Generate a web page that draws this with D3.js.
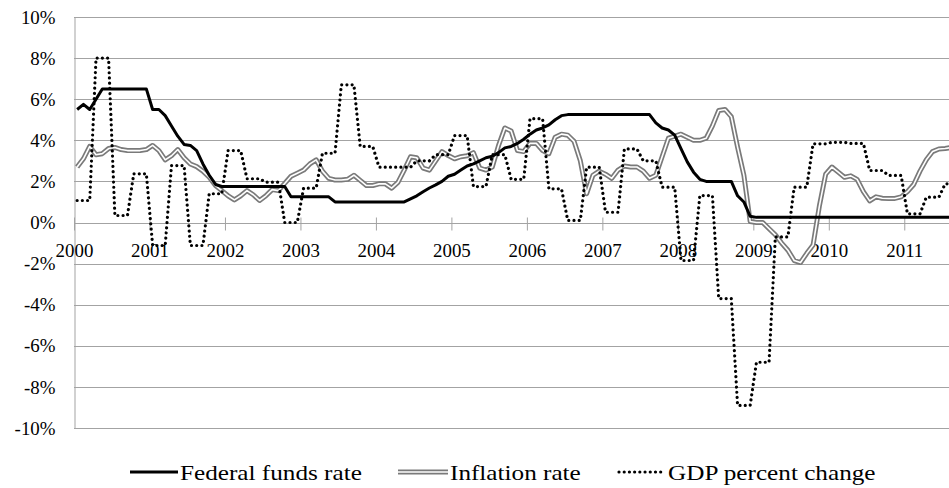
<!DOCTYPE html>
<html>
<head>
<meta charset="utf-8">
<script src="https://cdn.jsdelivr.net/npm/d3@7/dist/d3.min.js"></script>
<style>
  html, body { margin: 0; padding: 0; background: #ffffff; }
  svg { display: block; }
  svg text { font-family: "Liberation Serif", "DejaVu Serif", "Times New Roman", Times, serif !important; fill: #000; }
</style>
</head>
<body>
<svg id="chart" width="949" height="488"></svg>
<script>
// ---------------- DATA (monthly, Jan 2000 - Aug 2011) ----------------
const years = [2000, 2001, 2002, 2003, 2004, 2005, 2006, 2007, 2008, 2009, 2010, 2011];
const yTicks = [-10, -8, -6, -4, -2, 0, 2, 4, 6, 8, 10];
const seriesNames = ["Federal funds rate", "Inflation rate", "GDP percent change"];

const fedFunds = [
  5.5, 5.75, 5.5, 6.0, 6.5, 6.5, 6.5, 6.5, 6.5, 6.5, 6.5, 6.5,            // 2000
  5.5, 5.5, 5.2, 4.7, 4.2, 3.8, 3.75, 3.5, 2.85, 2.3, 1.85, 1.75,         // 2001
  1.75, 1.75, 1.75, 1.75, 1.75, 1.75, 1.75, 1.75, 1.75, 1.75, 1.25, 1.25, // 2002
  1.25, 1.25, 1.25, 1.25, 1.25, 1.0, 1.0, 1.0, 1.0, 1.0, 1.0, 1.0,        // 2003
  1.0, 1.0, 1.0, 1.0, 1.0, 1.15, 1.3, 1.5, 1.68, 1.83, 2.0, 2.25,         // 2004
  2.35, 2.55, 2.75, 2.85, 3.0, 3.15, 3.22, 3.4, 3.63, 3.7, 3.85, 4.05,    // 2005
  4.3, 4.5, 4.6, 4.75, 5.0, 5.2, 5.25, 5.25, 5.25, 5.25, 5.25, 5.25,      // 2006
  5.25, 5.25, 5.25, 5.25, 5.25, 5.25, 5.25, 5.25, 4.85, 4.6, 4.5, 4.25,   // 2007
  3.6, 2.95, 2.45, 2.1, 2.0, 2.0, 2.0, 2.0, 2.0, 1.3, 1.0, 0.3,           // 2008
  0.25, 0.25, 0.25, 0.25, 0.25, 0.25, 0.25, 0.25, 0.25, 0.25, 0.25, 0.25, // 2009
  0.25, 0.25, 0.25, 0.25, 0.25, 0.25, 0.25, 0.25, 0.25, 0.25, 0.25, 0.25, // 2010
  0.25, 0.25, 0.25, 0.25, 0.25, 0.25, 0.25, 0.25                          // 2011
];

const inflation = [
  2.7, 3.1, 3.7, 3.3, 3.35, 3.6, 3.65, 3.55, 3.5, 3.5, 3.5, 3.55,         // 2000
  3.75, 3.5, 3.05, 3.25, 3.55, 3.15, 2.85, 2.72, 2.5, 2.2, 1.8, 1.55,     // 2001
  1.3, 1.1, 1.3, 1.55, 1.35, 1.07, 1.3, 1.6, 1.55, 1.9, 2.25, 2.4,        // 2002
  2.55, 2.85, 3.05, 2.5, 2.15, 2.07, 2.07, 2.1, 2.3, 2.05, 1.8, 1.8,      // 2003
  1.88, 1.88, 1.67, 1.95, 2.55, 3.2, 3.15, 2.65, 2.55, 3.0, 3.45, 3.26,   // 2004
  3.1, 3.2, 3.25, 3.4, 2.65, 2.55, 2.7, 3.75, 4.6, 4.45, 3.5, 3.45,       // 2005
  3.85, 3.85, 3.5, 3.35, 4.15, 4.3, 4.25, 3.95, 3.0, 1.4, 2.3, 2.5,       // 2006
  2.35, 2.15, 2.55, 2.75, 2.7, 2.7, 2.5, 2.15, 2.3, 3.2, 4.1, 4.2,        // 2007
  4.3, 4.15, 4.0, 4.0, 4.1, 4.7, 5.45, 5.5, 5.15, 3.66, 2.3, 0.05,        // 2008
  0.0, 0.0, -0.3, -0.6, -1.0, -1.35, -1.85, -1.95, -1.5, -1.1, 0.8, 2.35, // 2009
  2.7, 2.45, 2.2, 2.27, 2.1, 1.5, 1.05, 1.25, 1.18, 1.17, 1.17, 1.25,     // 2010
  1.5, 1.85, 2.5, 3.05, 3.45, 3.58, 3.6, 3.65                             // 2011
];

// quarterly GDP percent change, Q1 2000 - Q3 2011 (each value held for its quarter's months)
const gdpQuarterly = [
  1.07, 8.0, 0.34, 2.37,    // 2000
  -1.12, 2.77, -1.12, 1.4,  // 2001
  3.5, 2.13, 1.96, 0.0,     // 2002
  1.67, 3.37, 6.7, 3.7,     // 2003
  2.69, 2.69, 3.0, 3.3,     // 2004
  4.23, 1.75, 3.3, 2.1,     // 2005
  5.05, 1.64, 0.1, 2.69,    // 2006
  0.5, 3.58, 3.0, 1.72,     // 2007
  -1.85, 1.31, -3.7, -8.9,  // 2008
  -6.8, -0.7, 1.72, 3.83,   // 2009
  3.9, 3.85, 2.53, 2.29,    // 2010
  0.42, 1.23, 1.88          // 2011
];

// ---------------- CHART ----------------
const svg = d3.select("#chart");
const W = 949, H = 488;
const plotLeft = 74, plotTop = 17, plotBottom = 428;
const nMonths = fedFunds.length;
const gridColor = "#a3a3a3";
const SXA = 1.05; // horizontal stretch, axis lettering
const SXL = 1.2;  // horizontal stretch, legend lettering
const serif = "'Liberation Serif', 'DejaVu Serif', 'Times New Roman', Times, serif";

const x = d3.scaleLinear().domain([0, nMonths]).range([plotLeft, plotLeft + nMonths * 6.29]);
const y = d3.scaleLinear().domain([-10, 10]).range([plotBottom, plotTop]);

// gridlines
svg.append("g").selectAll("line").data(yTicks).join("line")
  .attr("x1", plotLeft).attr("x2", x(nMonths))
  .attr("y1", d => Math.round(y(d)) + 0.5).attr("y2", d => Math.round(y(d)) + 0.5)
  .attr("stroke", gridColor).attr("stroke-width", 1);

// y axis
const yAxis = d3.axisLeft(y).tickValues(yTicks).tickFormat(d => d + "%").tickSize(0).tickPadding(19);
const gy = svg.append("g").attr("transform", `translate(${plotLeft + 0.5},0)`).call(yAxis)
  .attr("font-family", serif);
gy.select(".domain").attr("stroke", gridColor).attr("stroke-width", 1);
gy.selectAll(".tick text")
  .attr("font-family", serif).attr("font-size", 18)
  .attr("x", -19 / SXA).attr("dy", "0.34em")
  .attr("transform", `scale(${SXA},1)`);

// x axis (crossing tick marks on the 0% line)
const xAxis = d3.axisBottom(x)
  .tickValues(years.map((d, k) => k * 12))
  .tickFormat((d, k) => String(years[k]))
  .tickSize(7);
const gx = svg.append("g").attr("transform", `translate(0,${Math.round(y(0)) + 0.5})`).call(xAxis)
  .attr("font-family", serif);
gx.select(".domain").remove();
gx.selectAll(".tick line").attr("y1", -6).attr("y2", 7).attr("stroke", gridColor);
gx.selectAll(".tick text")
  .attr("font-family", serif).attr("font-size", 18)
  .attr("y", 0).attr("dy", 0)
  .attr("transform", `translate(0,33) scale(${SXA},1)`);

// series points (each month plotted at the middle of its category)
const fedPts = fedFunds.map((v, i) => ({ i, v }));
const infPts = inflation.map((v, i) => ({ i, v }));
const gdpPts = [];
gdpQuarterly.forEach((v, q) => {
  for (let m = 0; m < 3; m++) {
    const i = q * 3 + m;
    if (i < nMonths) gdpPts.push({ i, v });
  }
});

const line = d3.line().x(d => x(d.i + 0.5)).y(d => y(d.v));

svg.append("clipPath").attr("id", "plotClip")
  .append("rect").attr("x", plotLeft).attr("y", 0).attr("width", W).attr("height", H);
const plot = svg.append("g").attr("clip-path", "url(#plotClip)");

// inflation: double line
plot.append("path").datum(infPts).attr("d", line)
  .attr("fill", "none").attr("stroke", "#7a7a7a").attr("stroke-width", 5).attr("stroke-linejoin", "round");
plot.append("path").datum(infPts).attr("d", line)
  .attr("fill", "none").attr("stroke", "#ffffff").attr("stroke-width", 1.6).attr("stroke-linejoin", "round");

// federal funds rate: solid black
plot.append("path").datum(fedPts).attr("d", line)
  .attr("fill", "none").attr("stroke", "#000").attr("stroke-width", 3).attr("stroke-linejoin", "round");

// GDP: round dots
plot.append("path").datum(gdpPts).attr("d", line)
  .attr("fill", "none").attr("stroke", "#000").attr("stroke-width", 3.2)
  .attr("stroke-linecap", "round").attr("stroke-dasharray", "0.01 5.2");

// ---------------- LEGEND ----------------
const legY = 472;
const legend = [
  { name: seriesNames[0], x1: 130, x2: 178, tx: 180, type: "solid" },
  { name: seriesNames[1], x1: 398, x2: 448, tx: 450, type: "double" },
  { name: seriesNames[2], x1: 617, x2: 665, tx: 668, type: "dot" }
];
const lg = svg.append("g");
legend.forEach(d => {
  if (d.type === "solid") {
    lg.append("line").attr("x1", d.x1).attr("x2", d.x2).attr("y1", legY).attr("y2", legY)
      .attr("stroke", "#000").attr("stroke-width", 3);
  } else if (d.type === "double") {
    lg.append("line").attr("x1", d.x1).attr("x2", d.x2).attr("y1", legY).attr("y2", legY)
      .attr("stroke", "#7a7a7a").attr("stroke-width", 5);
    lg.append("line").attr("x1", d.x1).attr("x2", d.x2).attr("y1", legY).attr("y2", legY)
      .attr("stroke", "#fff").attr("stroke-width", 1.6);
  } else {
    lg.append("line").attr("x1", d.x1 + 2).attr("x2", d.x2).attr("y1", legY).attr("y2", legY)
      .attr("stroke", "#000").attr("stroke-width", 3.2)
      .attr("stroke-linecap", "round").attr("stroke-dasharray", "0.01 5.2");
  }
  lg.append("text")
    .attr("transform", `translate(${d.tx},${legY + 8}) scale(${SXL},1)`)
    .attr("font-family", serif).attr("font-size", 21)
    .text(d.name);
});
</script>
</body>
</html>
